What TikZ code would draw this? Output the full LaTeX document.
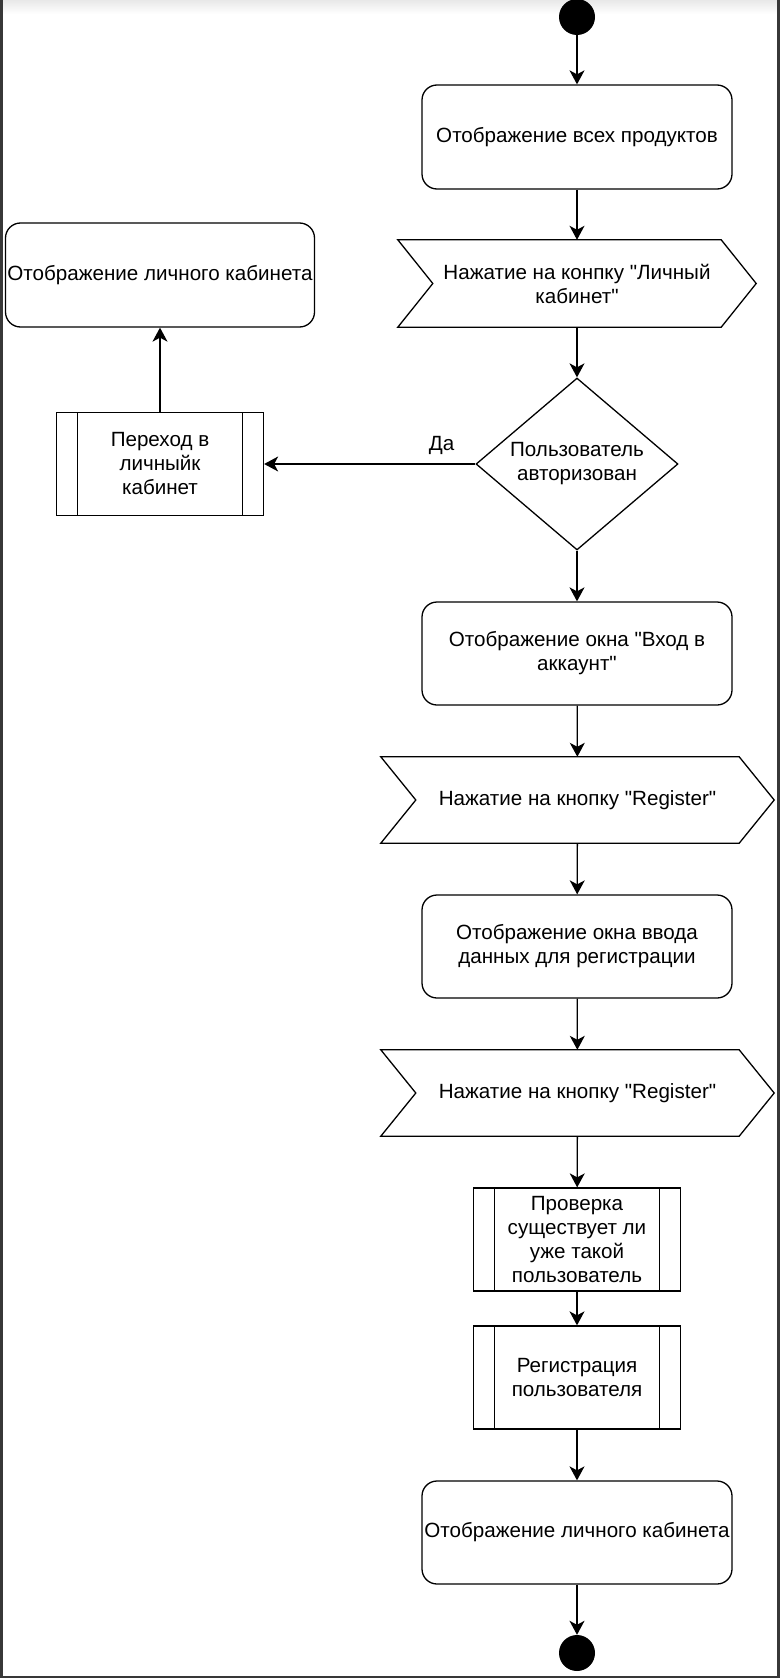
\documentclass[tikz,border=0pt]{standalone}
\usepackage{fontspec}
\setmainfont{Liberation Sans}
\usetikzlibrary{arrows.meta}
\usetikzlibrary{shapes.geometric}

\tikzset{
    every node/.style={font=\fontsize{20.6}{24}\selectfont, align=center},
    line/.style={line width=1.3pt},
    flow/.style={line width=1.3pt, -{Stealth[length=14pt, width=15pt, inset=4pt]}},
    dot/.style={circle, fill=black, minimum size=36pt, inner sep=0pt},
    state/.style={draw, line, rounded corners=15pt, minimum width=310pt, minimum height=104pt, inner sep=0pt},
    event/.style={minimum width=358pt, minimum height=87pt, inner sep=0pt},
    choice/.style={draw, line, diamond, aspect=1.17, minimum width=202pt, minimum height=172pt, inner sep=0pt},
    proc/.style={draw, line, minimum width=207pt, minimum height=103pt, inner sep=0pt,
        path picture={
            \draw[line] ([xshift=21pt]path picture bounding box.north west) -- ([xshift=21pt]path picture bounding box.south west);
            \draw[line] ([xshift=-21pt]path picture bounding box.north east) -- ([xshift=-21pt]path picture bounding box.south east);
        }}
}

%% straight double quote (font loaded without tex-text mapping)
\font\qfont="Liberation Sans" at 20.6pt
\newcommand{\qt}{{\qfont\char34}}

%% chevron round an event node
\newcommand{\chevron}[1]{%
    \draw[line] (#1.north west) -- ([xshift=-35pt]#1.north east) -- (#1.east)
        -- ([xshift=-35pt]#1.south east) -- (#1.south west) -- ([xshift=35pt]#1.west) -- cycle;}

\begin{document}
\begin{tikzpicture}[x=1pt, y=-1pt]
    \useasboundingbox (0,0) rectangle (780,1678);

    %% frame of the page
    \shade[top color=black!9, bottom color=white] (3,0) rectangle (777,14);
    \fill[black!78] (0,0) rectangle (3,1678);
    \fill[black!78] (777,0) rectangle (780,1678);
    \fill[black!78] (0,1676) rectangle (780,1678);

    %% main column
    \node[dot] (start) at (577,17) {};
    \node[state] (products) at (577,137) {Отображение всех продуктов};
    \node[event] (cabclick) at (577,283.5) {Нажатие на конпку \qt Личный\\кабинет\qt};
    \chevron{cabclick}
    \node[choice] (authorized) at (577,464) {Пользователь\\авторизован};
    \node[state, minimum height=103pt] (login) at (577,653.5) {Отображение окна \qt Вход в\\аккаунт\qt};
    \node[event, minimum width=393pt, minimum height=86pt] (regclick) at (577.5,800) {Нажатие на кнопку \qt Register\qt};
    \chevron{regclick}
    \node[state, minimum height=103pt] (regform) at (577,946.5) {Отображение окна ввода\\данных для регистрации};
    \node[event, minimum width=393pt, minimum height=86pt] (regsend) at (577.5,1093) {Нажатие на кнопку \qt Register\qt};
    \chevron{regsend}
    \node[proc] (check) at (577,1239.5) {Проверка\\существует ли\\уже такой\\пользователь};
    \node[proc] (register) at (577,1377.5) {Регистрация\\пользователя};
    \node[state, minimum height=103pt] (cabinet) at (577,1532.5) {Отображение личного кабинета};
    \node[dot] (stop) at (577,1653) {};

    %% left branch
    \node[proc] (gocab) at (160,464) {Переход в\\личныйк\\кабинет};
    \node[state, minimum width=309pt] (cabshow) at (160,275) {Отображение личного кабинета};

    %% connectors
    \draw[flow] (start) -- (products);
    \draw[flow] (products) -- (cabclick);
    \draw[flow] (cabclick) -- (authorized);
    \draw[flow] (authorized) -- (login);
    \draw[flow] (login) -- (regclick);
    \draw[flow] (regclick) -- (regform);
    \draw[flow] (regform) -- (regsend);
    \draw[flow] (regsend) -- (check);
    \draw[flow] (check) -- (register);
    \draw[flow] (register) -- (cabinet);
    \draw[flow] (cabinet) -- (stop);
    \draw[flow] (authorized.west) -- node[pos=0.16, above=5pt] {Да} (gocab.east);
    \draw[flow] (gocab) -- (cabshow);
\end{tikzpicture}
\end{document}
